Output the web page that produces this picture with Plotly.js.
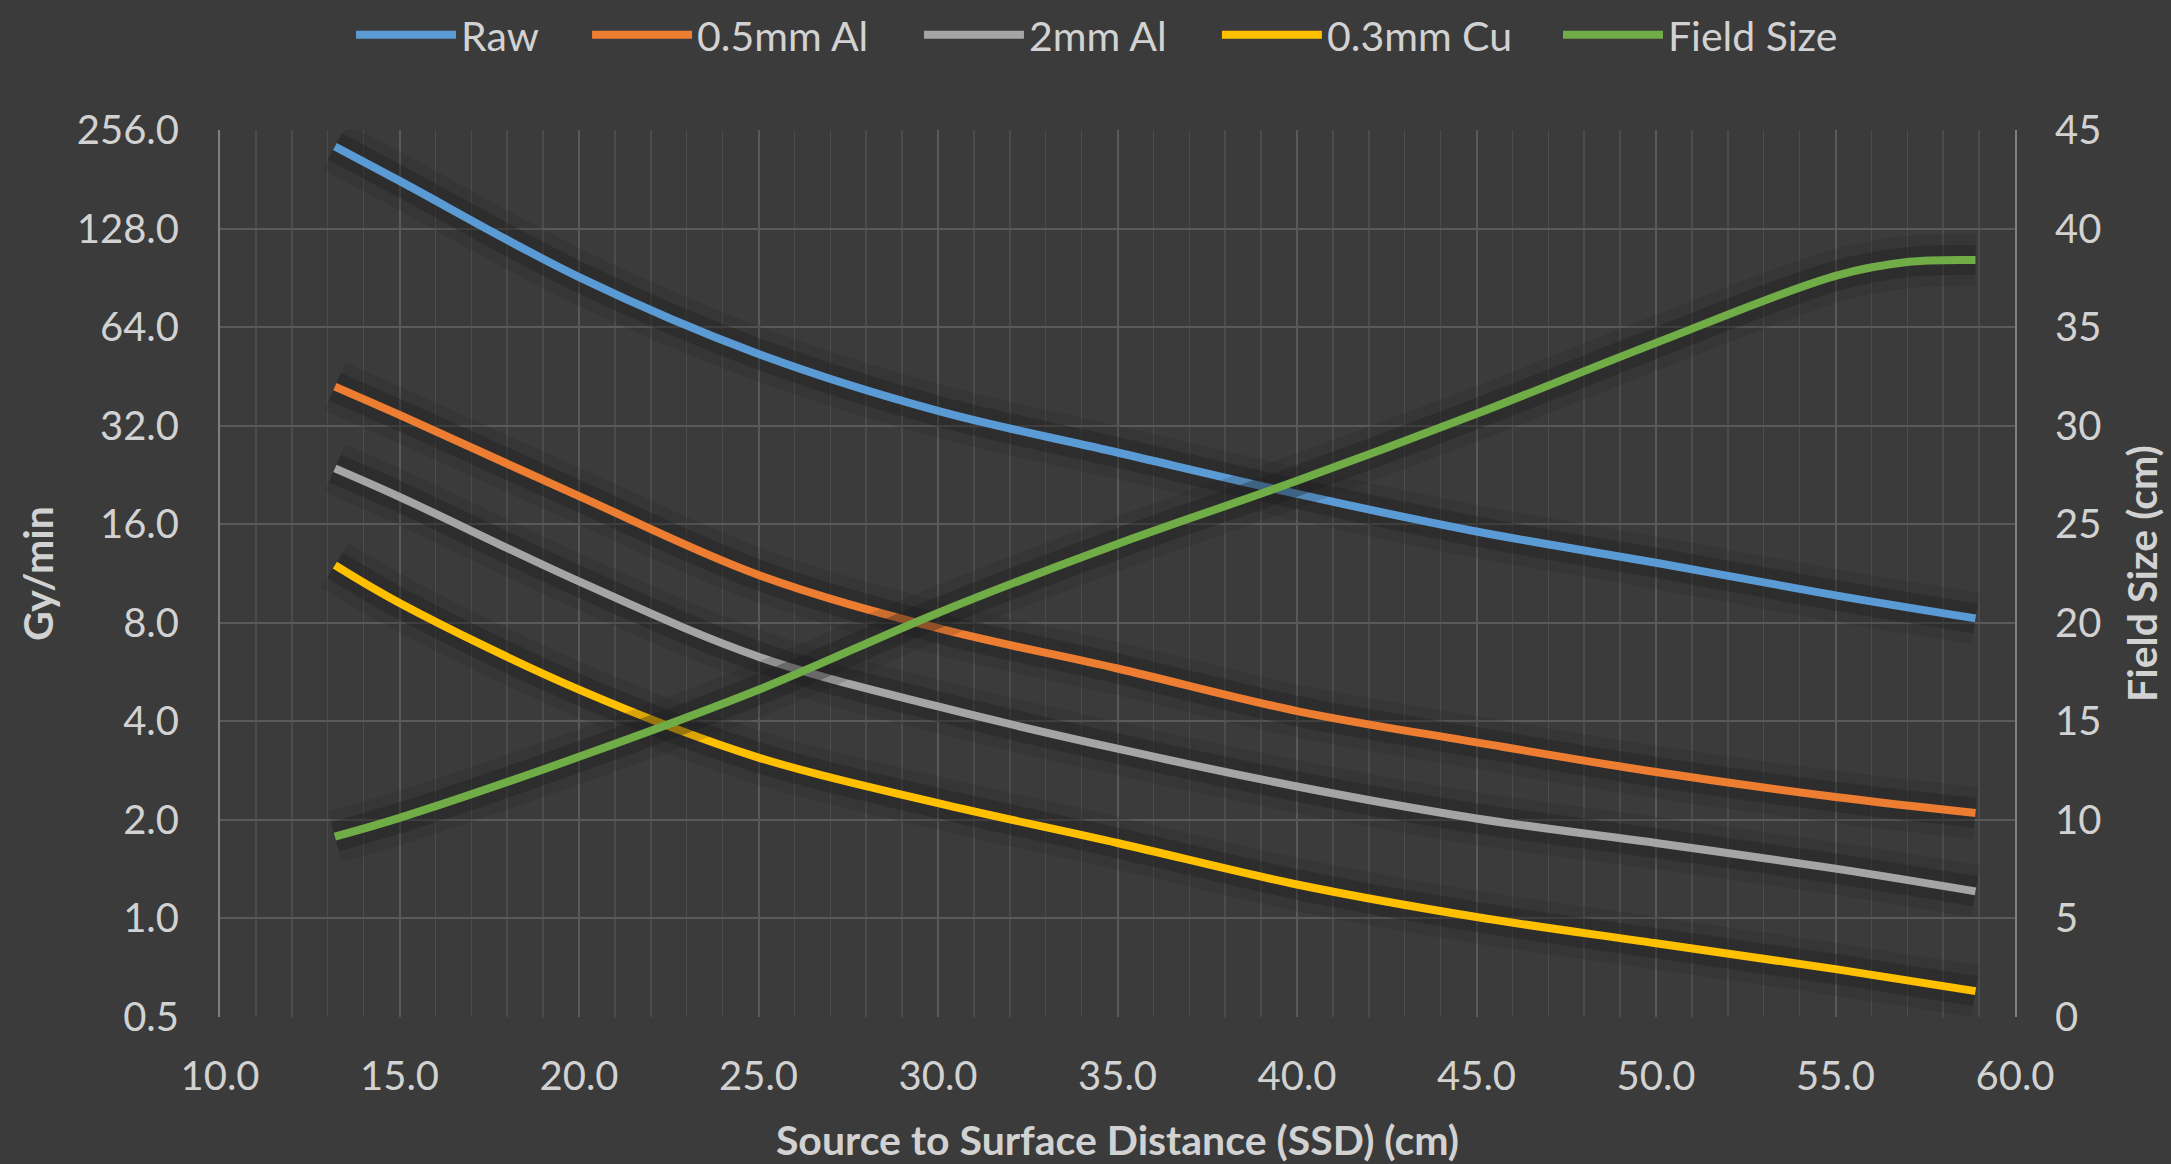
<!DOCTYPE html>
<html>
<head>
<meta charset="utf-8">
<script src="https://cdn.plot.ly/plotly-3.0.1.min.js"></script>
<style>
  html, body { margin: 0; padding: 0; background: #3b3b3b; }
  #chart { width: 2171px; height: 1164px; }
</style>
</head>
<body>
<div id="chart"></div>
<script>
// ---- data ----
const ssd       = [13.2, 15, 20, 25, 30, 35, 40, 45, 50, 55, 58.9];
const raw       = [228, 179, 91, 53, 35.5, 26.5, 19.8, 15.2, 12.2, 9.7, 8.25];
const al05      = [42.1, 34.5, 19.5, 11.2, 7.7, 5.8, 4.3, 3.45, 2.8, 2.35, 2.1];
const al2       = [23.7, 19.4, 10.7, 6.3, 4.44, 3.3, 2.53, 2.02, 1.70, 1.42, 1.21];
const cu03      = [12.0, 9.2, 5.0, 3.1, 2.25, 1.7, 1.27, 1.01, 0.84, 0.70, 0.60];
const fieldSsd  = [13.2, 15, 20, 25, 30, 35, 40, 45, 50, 55, 57, 58.9];
const fieldSize = [9.15, 10.1, 13.2, 16.6, 20.5, 24.0, 27.2, 30.6, 34.2, 37.6, 38.3, 38.4];

const seriesNames  = ['Raw', '0.5mm Al', '2mm Al', '0.3mm Cu', 'Field Size'];
const seriesColors = ['#5b9bd5', '#ed7d31', '#a5a5a5', '#ffc000', '#70ad47'];

const doseTicks  = [0.5, 1, 2, 4, 8, 16, 32, 64, 128, 256];
const xTicks     = [10, 15, 20, 25, 30, 35, 40, 45, 50, 55, 60];
const fieldTicks = [0, 5, 10, 15, 20, 25, 30, 35, 40, 45];

// ---- styling ----
const FONT = 'Lato, "Open Sans", sans-serif';
const TXT = '#d2d2d2';
const BG = '#3b3b3b';
const GRID = '#5a5a5a';
const GRID_MINOR = '#4c4c4c';
const SHADOW_OUTER = 'rgba(28,28,32,0.16)';
const SHADOW_INNER = 'rgba(28,28,32,0.34)';

// legend slots (paper x of each legend box, one entry per series)
const legendIds = ['legend', 'legend2', 'legend3', 'legend4', 'legend5'];
const legendX   = [0.0730, 0.2045, 0.3894, 0.5554, 0.7454];

const allX = [ssd, ssd, ssd, ssd, fieldSsd];
const allY = [raw, al05, al2, cu03, fieldSize];
const axisOf = ['y', 'y', 'y', 'y', 'y2'];

const traces = [];
function pushShadow(i) {
  [[52, SHADOW_OUTER], [30, SHADOW_INNER]].forEach(([w, c]) => {
    traces.push({
      x: allX[i], y: allY[i], type: 'scatter', mode: 'lines',
      line: { color: c, width: w, shape: 'spline', smoothing: 1 },
      showlegend: false, hoverinfo: 'skip', yaxis: axisOf[i]
    });
  });
}
function pushLine(i) {
  traces.push({
    x: allX[i], y: allY[i], type: 'scatter', mode: 'lines', name: seriesNames[i],
    line: { color: seriesColors[i], width: 8, shape: 'spline', smoothing: 1 },
    yaxis: axisOf[i], legend: legendIds[i]
  });
}
[0, 1, 2, 3].forEach(pushShadow);
[0, 1, 2, 3].forEach(pushLine);
pushShadow(4);
pushLine(4);

const layout = {
  width: 2171, height: 1164,
  paper_bgcolor: BG, plot_bgcolor: BG,
  margin: { l: 220, r: 156, t: 130, b: 147, autoexpand: false },
  font: { family: FONT, color: TXT, size: 40 },
  showlegend: true,
  xaxis: {
    range: [10, 60], tickvals: xTicks, ticktext: xTicks.map(v => v.toFixed(1)),
    showgrid: true, gridcolor: GRID, gridwidth: 2,
    minor: { dtick: 1, tick0: 10, showgrid: true, gridcolor: GRID_MINOR, gridwidth: 1.5 },
    zeroline: false, showline: false, ticks: '', ticklabelstandoff: 32,
    tickfont: { family: FONT, color: TXT, size: 40 },
    title: { text: 'Source to Surface Distance (SSD) (cm)', standoff: 31,
             font: { family: FONT, color: TXT, size: 41, weight: 'bold' } },
    automargin: false
  },
  yaxis: {
    type: 'log', range: [Math.log10(0.5), Math.log10(256)],
    tickvals: doseTicks, ticktext: doseTicks.map(v => v.toFixed(1)),
    showgrid: true, gridcolor: GRID, gridwidth: 2,
    zeroline: false, showline: true, linecolor: '#7f7f7f', linewidth: 2,
    ticks: '', ticklabelstandoff: 31,
    tickfont: { family: FONT, color: TXT, size: 40 },
    title: { text: 'Gy/min', standoff: 10,
             font: { family: FONT, color: TXT, size: 41, weight: 'bold' } },
    automargin: false
  },
  yaxis2: {
    overlaying: 'y', side: 'right', range: [0, 45],
    tickvals: fieldTicks, ticktext: fieldTicks.map(v => String(v)),
    showgrid: false, zeroline: false, showline: true, linecolor: '#7f7f7f', linewidth: 2,
    ticks: '', ticklabelstandoff: 30,
    tickfont: { family: FONT, color: TXT, size: 40 },
    title: { text: 'Field Size (cm)', standoff: 28,
             font: { family: FONT, color: TXT, size: 41, weight: 'bold' } },
    automargin: false
  }
};

legendIds.forEach((id, i) => {
  layout[id] = {
    orientation: 'h', x: legendX[i], xanchor: 'left', y: 1.107, yanchor: 'middle',
    font: { family: FONT, color: TXT, size: 41 },
    bgcolor: 'rgba(0,0,0,0)', borderwidth: 0, itemwidth: 100
  };
});

Plotly.newPlot('chart', traces, layout, { staticPlot: true, displayModeBar: false });
</script>
</body>
</html>
